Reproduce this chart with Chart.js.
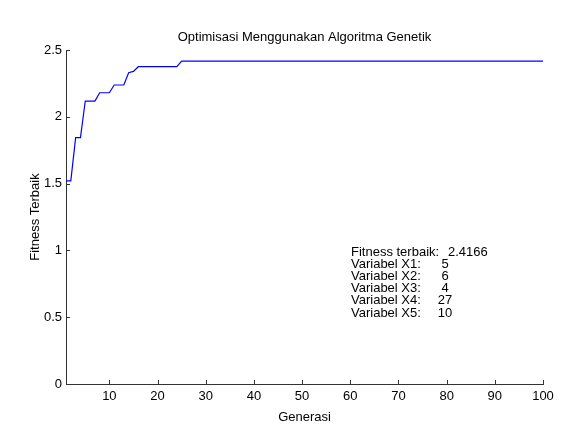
<!DOCTYPE html>
<html>
<head>
<meta charset="utf-8">
<script src="https://cdn.jsdelivr.net/npm/chart.js@4"></script>
<style>
  html, body { margin: 0; padding: 0; background: #fff; }
  canvas { display: block; }
</style>
</head>
<body>
<canvas id="grafik" width="577" height="435"></canvas>
<script>
// data generasi (sumbu x)
const generasi = [];
for (let g = 1; g <= 100; g++) generasi.push(g);

// fitness terbaik tiap generasi
const fitness = [
  1.52, 1.52, 1.844, 1.844, 2.118, 2.118, 2.118, 2.18, 2.18, 2.18,
  2.238, 2.238, 2.238, 2.33, 2.34, 2.375, 2.375, 2.375, 2.375, 2.375,
  2.375, 2.375, 2.375, 2.375, 2.4166, 2.4166, 2.4166, 2.4166, 2.4166, 2.4166,
  2.4166, 2.4166, 2.4166, 2.4166, 2.4166, 2.4166, 2.4166, 2.4166, 2.4166, 2.4166,
  2.4166, 2.4166, 2.4166, 2.4166, 2.4166, 2.4166, 2.4166, 2.4166, 2.4166, 2.4166,
  2.4166, 2.4166, 2.4166, 2.4166, 2.4166, 2.4166, 2.4166, 2.4166, 2.4166, 2.4166,
  2.4166, 2.4166, 2.4166, 2.4166, 2.4166, 2.4166, 2.4166, 2.4166, 2.4166, 2.4166,
  2.4166, 2.4166, 2.4166, 2.4166, 2.4166, 2.4166, 2.4166, 2.4166, 2.4166, 2.4166,
  2.4166, 2.4166, 2.4166, 2.4166, 2.4166, 2.4166, 2.4166, 2.4166, 2.4166, 2.4166,
  2.4166, 2.4166, 2.4166, 2.4166, 2.4166, 2.4166, 2.4166, 2.4166, 2.4166, 2.4166
];

const tickX = [10, 20, 30, 40, 50, 60, 70, 80, 90, 100];
const tickY = [0, 0.5, 1, 1.5, 2, 2.5];

const judul = "Optimisasi Menggunakan Algoritma Genetik";
const labelX = "Generasi";
const labelY = "Fitness Terbaik";

// teks hasil di dalam grafik
const hasilLabel = ["Fitness terbaik:", "Variabel X1:", "Variabel X2:", "Variabel X3:", "Variabel X4:", "Variabel X5:"];
const hasilNilai = ["2.4166", "5", "6", "4", "27", "10"];

const FONT = "Liberation Sans, Arial, sans-serif";
const warnaSumbu = "#333333";

// plugin untuk judul, label sumbu, tick ke dalam dan teks hasil
const gambarTambahan = {
  id: "gambarTambahan",
  afterDraw(chart) {
    const ctx = chart.ctx;
    const area = chart.chartArea;
    const sx = chart.scales.x;
    const sy = chart.scales.y;
    ctx.save();

    // tick ke dalam
    ctx.strokeStyle = warnaSumbu;
    ctx.lineWidth = 1;
    ctx.beginPath();
    tickX.forEach(v => {
      const px = Math.round(sx.getPixelForValue(v)) + 0.5;
      ctx.moveTo(px, area.bottom);
      ctx.lineTo(px, area.bottom - 4);
    });
    tickY.forEach(v => {
      const py = Math.round(sy.getPixelForValue(v)) + 0.5;
      ctx.moveTo(area.left, py);
      ctx.lineTo(area.left + 4, py);
    });
    ctx.stroke();

    ctx.fillStyle = "#000";
    ctx.font = "13px " + FONT;
    ctx.textBaseline = "middle";

    // judul
    ctx.textAlign = "center";
    const tengahX = (area.left + area.right) / 2;
    ctx.fillText(judul, tengahX, 37);

    // label sumbu x
    ctx.fillText(labelX, tengahX, 417);

    // label sumbu y
    ctx.save();
    ctx.translate(35, (area.top + area.bottom) / 2);
    ctx.rotate(-Math.PI / 2);
    ctx.fillText(labelY, 0, 0);
    ctx.restore();

    // teks hasil
    const barisY = [252, 264, 276, 288.5, 300.5, 313];
    hasilLabel.forEach((t, i) => {
      ctx.textAlign = "left";
      ctx.fillText(t, 351, barisY[i]);
      if (i === 0) {
        ctx.fillText(hasilNilai[i], 448, barisY[i]);
      } else {
        ctx.textAlign = "center";
        ctx.fillText(hasilNilai[i], 445, barisY[i]);
      }
    });

    ctx.restore();
  }
};

new Chart(document.getElementById("grafik"), {
  type: "line",
  data: {
    datasets: [{
      data: generasi.map((g, i) => ({ x: g, y: fitness[i] })),
      borderColor: "#0000ff",
      borderWidth: 1.2,
      pointRadius: 0,
      fill: false,
      tension: 0
    }]
  },
  options: {
    responsive: false,
    animation: false,
    layout: { padding: { top: 50, right: 34, bottom: 0, left: 0 } },
    plugins: {
      legend: { display: false },
      tooltip: { enabled: false },
      title: { display: false }
    },
    scales: {
      x: {
        type: "linear",
        min: 1,
        max: 100,
        afterBuildTicks: s => { s.ticks = tickX.map(v => ({ value: v })); },
        afterFit: s => { s.height = 51; },
        grid: { display: false, drawTicks: false },
        border: { display: true, color: warnaSumbu, width: 1 },
        ticks: { color: "#000", font: { family: FONT, size: 13 }, padding: 5, maxRotation: 0 }
      },
      y: {
        type: "linear",
        min: 0,
        max: 2.5,
        afterBuildTicks: s => { s.ticks = tickY.map(v => ({ value: v })); },
        afterFit: s => { s.width = 66; },
        grid: { display: false, drawTicks: false },
        border: { display: true, color: warnaSumbu, width: 1 },
        ticks: {
          color: "#000",
          font: { family: FONT, size: 13 },
          padding: 4,
          callback: v => String(v)
        }
      }
    }
  },
  plugins: [gambarTambahan]
});
</script>
</body>
</html>
